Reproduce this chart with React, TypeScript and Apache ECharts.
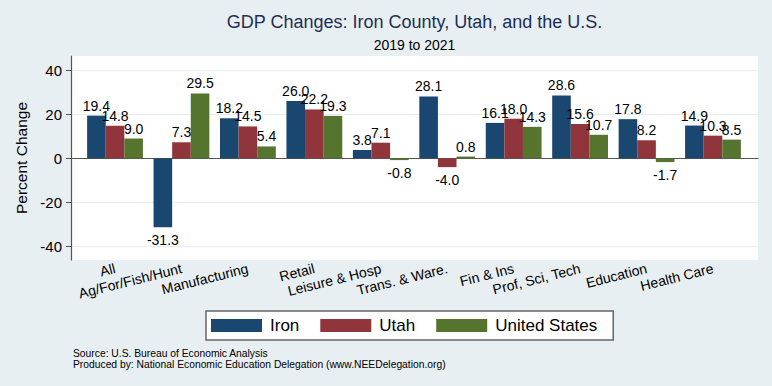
import React, { useEffect, useRef } from "react";
import * as echarts from "echarts";

const categories = [
  "All",
  "Ag/For/Fish/Hunt",
  "Manufacturing",
  "Retail",
  "Leisure & Hosp",
  "Trans. & Ware.",
  "Fin & Ins",
  "Prof, Sci, Tech",
  "Education",
  "Health Care",
];
const ironValues = [19.4, -31.3, 18.2, 26.0, 3.8, 28.1, 16.1, 28.6, 17.8, 14.9];
const utahValues = [14.8, 7.3, 14.5, 22.2, 7.1, -4.0, 18.0, 15.6, 8.2, 10.3];
const usValues = [9.0, 29.5, 5.4, 19.3, -0.8, 0.8, 14.3, 10.7, -1.7, 8.5];
const yTickValues = [-40, -20, 0, 20, 40];

const FONT = "'Liberation Sans', Arial, Helvetica, sans-serif";
const BG = "#e8eff2";
const Y_MIN = -46.2;
const Y_MAX = 46.5;

function makeSeries(name: string, values: number[], color: string) {
  return {
    name,
    type: "bar",
    xAxisIndex: 1,
    yAxisIndex: 1,
    barGap: "0%",
    barCategoryGap: "16%",
    itemStyle: { color },
    data: values.map((v) => ({
      value: v,
      label: {
        position: v < 0 ? "bottom" : "top",
        distance: v < 0 ? 6 : 3,
      },
    })),
    label: {
      show: true,
      fontFamily: FONT,
      fontSize: 14,
      color: "#000",
      formatter: (p: any) => Number(p.value).toFixed(1),
    },
  };
}

export default function App() {
  const ref = useRef<HTMLDivElement>(null);
  useEffect(() => {
    if (!ref.current) return;
    const chart = echarts.init(ref.current, null, { renderer: "svg" });
    chart.setOption({
      animation: false,
      backgroundColor: BG,
      textStyle: { fontFamily: FONT },
      title: [
        {
          text: "GDP Changes: Iron County, Utah, and the U.S.",
          left: 414.5,
          top: 13,
          padding: 0,
          textAlign: "center",
          textStyle: { fontFamily: FONT, fontSize: 18, fontWeight: "normal", color: "#1f2d55" },
        },
        {
          text: "2019 to 2021",
          left: 414.5,
          top: 38,
          padding: 0,
          textAlign: "center",
          textStyle: { fontFamily: FONT, fontSize: 14, fontWeight: "normal", color: "#000" },
        },
        {
          text: "Source: U.S. Bureau of Economic Analysis\nProduced by: National Economic Education Delegation (www.NEEDelegation.org)",
          left: 73,
          top: 348,
          padding: 0,
          textStyle: { fontFamily: FONT, fontSize: 10.3, fontWeight: "normal", color: "#000", lineHeight: 11 },
        },
      ],
      legend: {
        left: 206,
        top: 311,
        padding: [6, 16, 6, 5],
        backgroundColor: "#fff",
        borderColor: "#666",
        borderWidth: 1.5,
        itemWidth: 51,
        itemHeight: 13,
        itemGap: 21,
        icon: "rect",
        textStyle: { fontFamily: FONT, fontSize: 17, color: "#000", padding: [0, 0, 0, 3] },
        data: ["Iron", "Utah", "United States"],
      },
      grid: [
        {
          left: 71,
          right: 14,
          top: 56,
          bottom: 126,
          show: true,
          backgroundColor: "#fff",
          borderWidth: 0,
        },
        {
          left: 81.8,
          right: 25.8,
          top: 56,
          bottom: 126,
        },
      ],
      xAxis: [
        {
          gridIndex: 0,
          type: "value",
          min: 0,
          max: 1,
          axisLine: { show: true, lineStyle: { color: "#555", width: 1.2 } },
          axisTick: { show: false },
          axisLabel: { show: false },
          splitLine: { show: false },
        },
        {
          gridIndex: 1,
          type: "category",
          data: categories,
          axisLine: { show: false },
          axisTick: { show: false },
          axisLabel: {
            interval: 0,
            rotate: 14,
            margin: 8,
            fontFamily: FONT,
            fontSize: 14,
            color: "#000",
          },
        },
      ],
      yAxis: [
        {
          gridIndex: 0,
          type: "value",
          min: Y_MIN,
          max: Y_MAX,
          name: "Percent Change",
          nameLocation: "middle",
          nameGap: 38,
          nameTextStyle: { fontFamily: FONT, fontSize: 15.5, color: "#000" },
          axisLine: { show: true, lineStyle: { color: "#555", width: 1.2 } },
          axisTick: {
            show: true,
            length: 5,
            lineStyle: { color: "#555" },
            customValues: yTickValues,
          },
          axisLabel: {
            fontFamily: FONT,
            fontSize: 15,
            color: "#000",
            margin: 9,
            customValues: yTickValues,
          },
          splitLine: { show: true, lineStyle: { color: "#e6eef1", width: 1 } },
        },
        {
          gridIndex: 1,
          type: "value",
          min: Y_MIN,
          max: Y_MAX,
          show: false,
          splitLine: { show: false },
        },
      ],
      series: [
        makeSeries("Iron", ironValues, "#1a476f"),
        makeSeries("Utah", utahValues, "#90353b"),
        makeSeries("United States", usValues, "#55752f"),
      ],
    });
    return () => chart.dispose();
  }, []);
  return <div ref={ref} style={{ width: 772, height: 386, position: "absolute", left: 0, top: 0 }} />;
}
